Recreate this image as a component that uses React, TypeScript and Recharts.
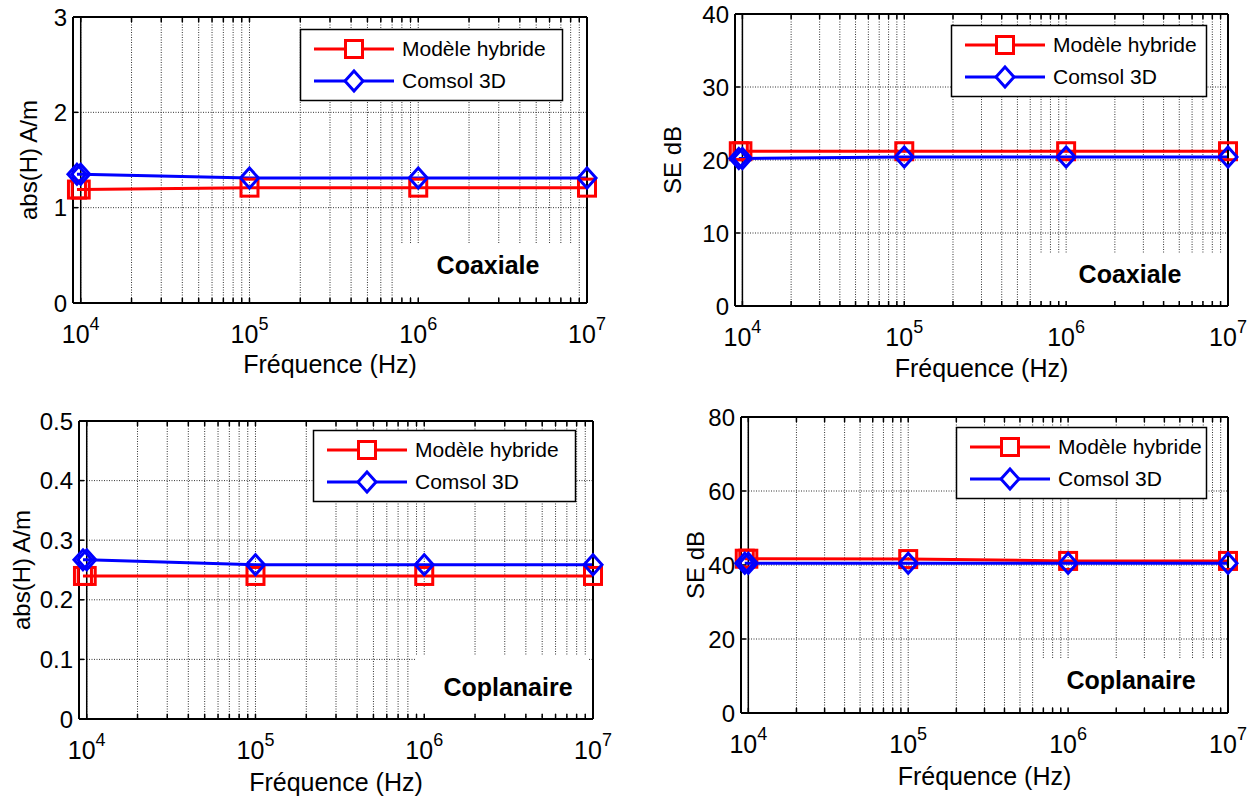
import { LineChart, Line, XAxis, YAxis, CartesianGrid, ReferenceLine } from 'recharts'

// frequencies (Hz) of the computed points
const freqs = [9500, 1e4, 1e5, 1e6, 1e7]
const decadeTicks = [1e4, 1e5, 1e6, 1e7]
const gridTicks = [9e3, ...[1e4, 1e5, 1e6].flatMap((d) => [1, 2, 3, 4, 5, 6, 7, 8, 9].map((m) => m * d)), 1e7]

// abs(H) A/m, coaxial
const coaxHHybride = [1.19, 1.19, 1.21, 1.21, 1.21]
const coaxHComsol = [1.35, 1.35, 1.31, 1.31, 1.31]
// SE dB, coaxial
const coaxSEHybride = [21.2, 21.2, 21.2, 21.2, 21.2]
const coaxSEComsol = [20.2, 20.2, 20.4, 20.4, 20.4]
// abs(H) A/m, coplanar
const copHHybride = [0.24, 0.24, 0.24, 0.24, 0.24]
const copHComsol = [0.267, 0.267, 0.259, 0.259, 0.259]
// SE dB, coplanar
const copSEHybride = [41.7, 41.7, 41.6, 41.1, 41.1]
const copSEComsol = [40.5, 40.5, 40.5, 40.5, 40.5]

const hTicksCoax = [0, 1, 2, 3]
const seTicksCoax = [0, 10, 20, 30, 40]
const hTicksCop = [0, 0.1, 0.2, 0.3, 0.4, 0.5]
const seTicksCop = [0, 20, 40, 60, 80]

const FONT = '"Liberation Sans", Arial, sans-serif'
const W = 628
const H = 399

const panels = [
  {
    x0: 0, y0: 0, plot: { left: 73, top: 17, right: 587, bottom: 303 }, xh: 70, ylabOff: 28,
    ylabel: 'abs(H) A/m', yTicks: hTicksCoax, hybride: coaxHHybride, comsol: coaxHComsol,
    legend: { left: 300, top: 29, width: 263 },
    note: { text: 'Coaxiale', x1: 400, x2: 578, y1: 243, y2: 297, cx: 488, base: 274 },
  },
  {
    x0: 628, y0: 0, plot: { left: 735, top: 14, right: 1228, bottom: 306 }, xh: 71, ylabOff: 44,
    ylabel: 'SE dB', yTicks: seTicksCoax, hybride: coaxSEHybride, comsol: coaxSEComsol,
    legend: { left: 951, top: 25, width: 256 },
    note: { text: 'Coaxiale', x1: 1037, x2: 1222, y1: 253, y2: 300, cx: 1130, base: 283 },
  },
  {
    x0: 0, y0: 399, plot: { left: 79, top: 421, right: 593, bottom: 719 }, xh: 72, ylabOff: 21,
    ylabel: 'abs(H) A/m', yTicks: hTicksCop, hybride: copHHybride, comsol: copHComsol,
    legend: { left: 313, top: 430, width: 263 },
    note: { text: 'Coplanaire', x1: 415, x2: 588, y1: 655, y2: 713, cx: 508, base: 696 },
  },
  {
    x0: 628, y0: 399, plot: { left: 741, top: 417, right: 1228, bottom: 713 }, xh: 72, ylabOff: 67,
    ylabel: 'SE dB', yTicks: seTicksCop, hybride: copSEHybride, comsol: copSEComsol,
    legend: { left: 956, top: 427, width: 251 },
    note: { text: 'Coplanaire', x1: 1037, x2: 1222, y1: 658, y2: 707, cx: 1131, base: 689 },
  },
]

function DecadeTick(props: any) {
  const { x, y, payload } = props
  if (!decadeTicks.includes(payload.value)) return <g />
  const exp = Math.round(Math.log10(payload.value))
  return (
    <text x={x} y={y + 40} textAnchor="middle" fill="#000" fontSize={25} fontFamily={FONT}>
      <tspan>10</tspan>
      <tspan dy={-13} fontSize={18}>{exp}</tspan>
    </text>
  )
}

const emptyTick = () => <g />

const squareDot = (p: any) => (
  <rect key={`sq-${p.index}`} x={p.cx - 8.5} y={p.cy - 8.5} width={17} height={17}
    fill="none" stroke="#ff0000" strokeWidth={3} />
)

const diamondDot = (p: any) => (
  <path key={`di-${p.index}`}
    d={`M${p.cx},${p.cy - 10}L${p.cx + 9},${p.cy}L${p.cx},${p.cy + 10}L${p.cx - 9},${p.cy}Z`}
    fill="none" stroke="#0000ff" strokeWidth={3} />
)

function LegendBox({ left, top, width }: { left: number; top: number; width: number }) {
  const h = 72
  return (
    <svg style={{ position: 'absolute', left, top, overflow: 'visible' }} width={width} height={h}>
      <rect x={0.5} y={0.5} width={width - 1} height={h - 1} fill="#fff" stroke="#000" strokeWidth={1.5} />
      <line x1={14} x2={94} y1={20} y2={20} stroke="#ff0000" strokeWidth={3} />
      <rect x={45.5} y={11.5} width={17} height={17} fill="#fff" stroke="#ff0000" strokeWidth={3} />
      <text x={102} y={27} fontSize={21} fontFamily={FONT} fill="#000">Modèle hybride</text>
      <line x1={14} x2={94} y1={52} y2={52} stroke="#0000ff" strokeWidth={3} />
      <path d="M54,42L63,52L54,62L45,52Z" fill="#fff" stroke="#0000ff" strokeWidth={3} />
      <text x={102} y={59} fontSize={21} fontFamily={FONT} fill="#000">Comsol 3D</text>
    </svg>
  )
}

function Panel({ cfg }: { cfg: (typeof panels)[number] }) {
  const data = freqs.map((f, i) => ({ f, hybride: cfg.hybride[i], comsol: cfg.comsol[i] }))
  const yMax = cfg.yTicks[cfg.yTicks.length - 1]
  // top and right axes are 1px wide (a zero-size axis is not drawn)
  const margin = {
    top: cfg.plot.top - cfg.y0 - 1,
    right: cfg.x0 + W - cfg.plot.right - 1,
    left: 0,
    bottom: cfg.y0 + H - cfg.plot.bottom - cfg.xh,
  }
  const axisLine = { stroke: '#000', strokeWidth: 2 }
  const tickLine = { stroke: '#000', strokeWidth: 1.5 }
  const n = cfg.note
  return (
    <div style={{ position: 'absolute', left: cfg.x0, top: cfg.y0, width: W, height: H }}>
      <LineChart width={W} height={H} data={data} margin={margin} style={{ fontFamily: FONT }}>
        <CartesianGrid stroke="#333" strokeDasharray="1 1.5" />
        <XAxis
          dataKey="f" type="number" scale="log" domain={[9000, 1e7]} ticks={gridTicks} interval={0}
          tick={(p: any) => <DecadeTick {...p} />} tickSize={-5} tickMargin={5} height={cfg.xh}
          axisLine={axisLine} tickLine={tickLine}
          label={{ value: 'Fréquence (Hz)', position: 'insideBottom', offset: 0, style: { fontSize: 25, fill: '#000' } }}
        />
        <XAxis
          xAxisId="top" orientation="top" dataKey="f" type="number" scale="log" domain={[9000, 1e7]}
          ticks={gridTicks} interval={0} tick={emptyTick} tickSize={-5} height={1}
          axisLine={axisLine} tickLine={tickLine}
        />
        <YAxis
          domain={[0, yMax]} ticks={cfg.yTicks} interval={0} width={cfg.plot.left - cfg.x0}
          tickSize={-5} tickMargin={11} axisLine={axisLine} tickLine={tickLine}
          tick={{ fontSize: 24, fill: '#000' }}
          label={{ value: cfg.ylabel, angle: -90, position: 'insideLeft', offset: cfg.ylabOff, style: { textAnchor: 'middle', fontSize: 24, fill: '#000' } }}
        />
        <YAxis
          yAxisId="right" orientation="right" domain={[0, yMax]} ticks={cfg.yTicks} interval={0} width={1}
          tick={emptyTick} tickSize={-5} axisLine={axisLine} tickLine={tickLine}
        />
        <ReferenceLine x={1e4} stroke="#000" strokeWidth={1.5} />
        <Line dataKey="hybride" stroke="#ff0000" strokeWidth={3} dot={squareDot} isAnimationActive={false} />
        <Line dataKey="comsol" stroke="#0000ff" strokeWidth={3} dot={diamondDot} isAnimationActive={false} />
      </LineChart>
      <svg style={{ position: 'absolute', left: 0, top: 0, pointerEvents: 'none' }} width={W} height={H}>
        <rect x={n.x1 - cfg.x0} y={n.y1 - cfg.y0} width={n.x2 - n.x1} height={n.y2 - n.y1} fill="#fff" />
        <text x={n.cx - cfg.x0} y={n.base - cfg.y0} textAnchor="middle" fontSize={25} fontWeight="bold" fontFamily={FONT} fill="#000">
          {n.text}
        </text>
      </svg>
      <div style={{ position: 'absolute', left: 0, top: 0 }}>
        <LegendBox left={cfg.legend.left - cfg.x0} top={cfg.legend.top - cfg.y0} width={cfg.legend.width} />
      </div>
    </div>
  )
}

export default function App() {
  return (
    <div style={{ position: 'absolute', left: 0, top: 0, width: 1256, height: 798, background: '#fff' }}>
      {panels.map((cfg, i) => (
        <Panel key={i} cfg={cfg} />
      ))}
    </div>
  )
}
